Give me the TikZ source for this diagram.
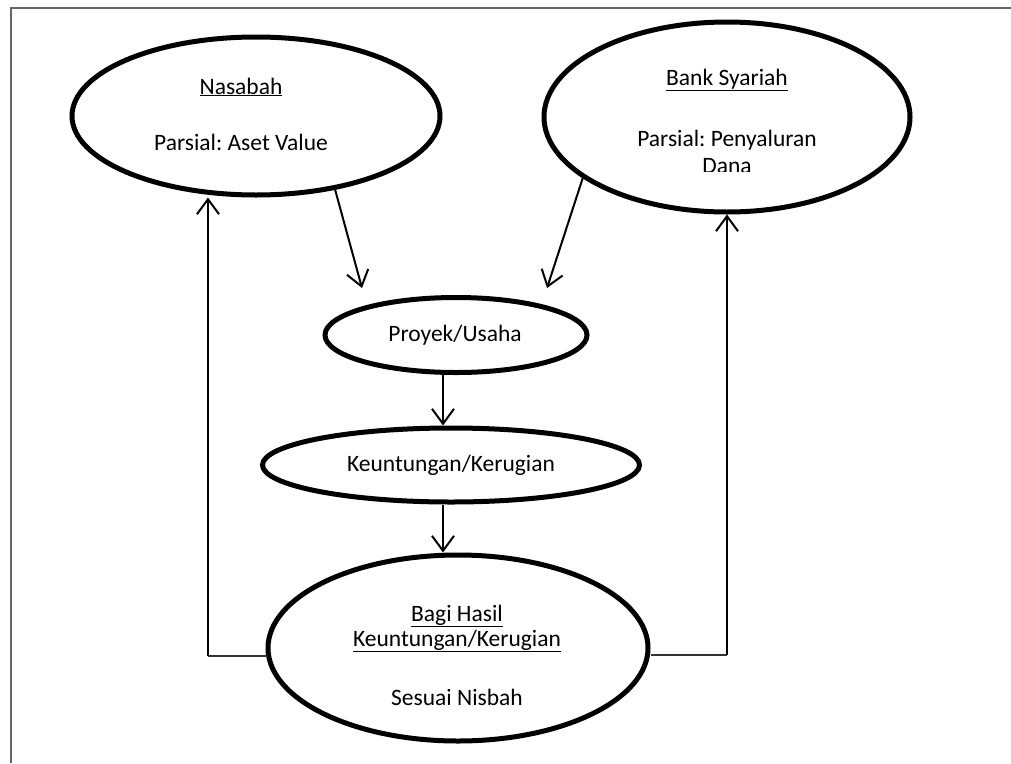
\documentclass[tikz,border=0pt]{standalone}
\usepackage{fontspec}
\setmainfont{Carlito}
\usepackage{tikz}
\usetikzlibrary{shapes.geometric,arrows.meta,calc}
\frenchspacing

\begin{document}
\begin{tikzpicture}[x=1pt,y=-1pt,
  oval/.style={draw, ellipse, line width=5pt, inner sep=0pt},
  lbl/.style={inner sep=0pt, font=\fontsize{23.5}{28}\selectfont},
  arr/.style={line width=2pt, -{Straight Barb[length=15pt,width=22pt]}},
  back/.style={line width=1.2pt, black!80}]

\useasboundingbox (0,0) rectangle (1011,763);
\draw[line width=1.5pt, black!60] (11,763) -- (11,8) -- (1011,8);

% the five ovals
\node[oval, minimum width=368pt, minimum height=158pt] (nasabah) at (256,116) {};
\node[oval, minimum width=366pt, minimum height=190pt] (bank) at (727,117) {};
\node[oval, minimum width=262pt, minimum height=75pt] (proyek) at (456,335) {};
\node[oval, minimum width=377pt, minimum height=74pt] (untung) at (451,465) {};
\node[oval, minimum width=380pt, minimum height=186pt] (bagi) at (458,648) {};

\node[lbl] (nasabahT) at (241,87) {\underline{Nasabah}};
\node[lbl] (nasabahP) at (241,142) {Parsial: Aset Value};

\node[lbl] (bankT) at (727,80) {\underline{Bank Syariah}};
\node[lbl] (bankP) at (727,140) {Parsial: Penyaluran};
\begin{scope}
\clip (600,150) rectangle (850,171);
\node[lbl] (bankD) at (727,166) {Dana};
\end{scope}

\node[lbl] (proyekT) at (455,335) {Proyek/Usaha};
\node[lbl] (untungT) at (451,465) {Keuntungan/Kerugian};

\node[lbl] (bagiT) at (457,616) {\underline{Bagi Hasil}};
\node[lbl] (bagiK) at (457,641) {\underline{Keuntungan/Kerugian}};
\node[lbl] (bagiS) at (457,697) {Sesuai Nisbah};

% arrows
\coordinate (pinL) at (362,288);
\coordinate (pinR) at (547,288);
\draw[arr] (nasabah.-43) -- (pinL);
\draw[arr] (bank.-157) -- (pinR);
\draw[arr] ([xshift=-13pt]proyek.south) -- ([xshift=-13pt]proyek.south |- untung.north);
\draw[arr] ([xshift=-8pt]untung.south) -- ([xshift=-8pt]untung.south |- bagi.north);

% back to the two parties
\coordinate (cornerL) at (208,656);
\coordinate (cornerR) at (727,655);
\draw[back] (bagi.west |- cornerL) -- (cornerL);
\draw[arr] (cornerL) -- (cornerL |- nasabah.south);
\draw[back] (bagi.east |- cornerR) -- (cornerR);
\draw[arr] (cornerR) -- (cornerR |- bank.south);

\end{tikzpicture}
\end{document}
